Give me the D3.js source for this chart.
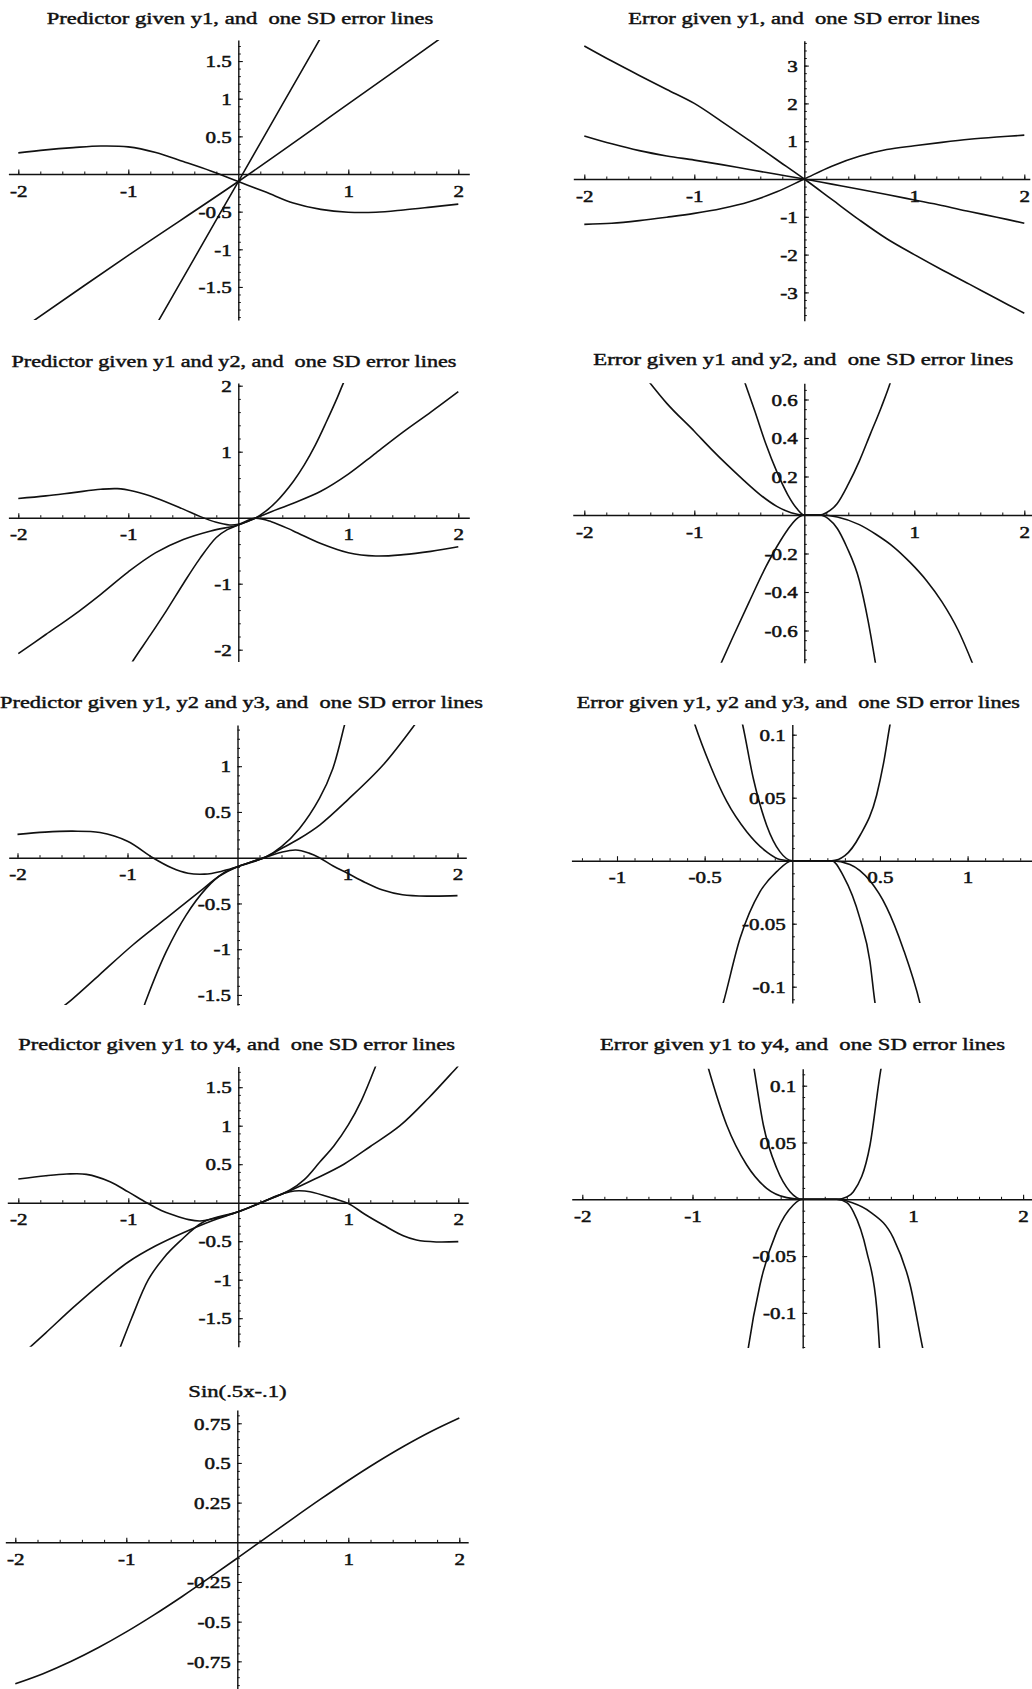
<!DOCTYPE html>
<html>
<head>
<meta charset="utf-8">
<script src="https://cdn.jsdelivr.net/npm/d3@7"></script>
<style>
  html, body { margin: 0; padding: 0; background: #fff; }
  svg { display: block; }
  text { font-family: "Liberation Serif", "Times New Roman", serif; font-size: 17.5px; fill: #111; white-space: pre; }
  .lbl text { stroke: #111; stroke-width: 0.55px; }
  .title { stroke: #111; stroke-width: 0.45px; }
</style>
</head>
<body>
<svg id="chart" width="1032" height="1689"></svg>
<script>
// ---------- titles and tick labels ----------
const titles = [
  "Predictor given y1, and  one SD error lines",
  "Error given y1, and  one SD error lines",
  "Predictor given y1 and y2, and  one SD error lines",
  "Error given y1 and y2, and  one SD error lines",
  "Predictor given y1, y2 and y3, and  one SD error lines",
  "Error given y1, y2 and y3, and  one SD error lines",
  "Predictor given y1 to y4, and  one SD error lines",
  "Error given y1 to y4, and  one SD error lines",
  "Sin(.5x-.1)"
];
const xTicksWide = [-2, -1, 1, 2];
const xTicksHalf = [-1, -0.5, 0.5, 1];
const yTicksP1 = [1.5, 1, 0.5, -0.5, -1, -1.5];
const yTicksP2 = [3, 2, 1, -1, -2, -3];
const yTicksP3 = [2, 1, -1, -2];
const yTicksP4 = [0.6, 0.4, 0.2, -0.2, -0.4, -0.6];
const yTicksP5 = [1, 0.5, -0.5, -1, -1.5];
const yTicksP6 = [0.1, 0.05, -0.05, -0.1];
const yTicksP7 = [1.5, 1, 0.5, -0.5, -1, -1.5];
const yTicksP8 = [0.1, 0.05, -0.05, -0.1];
const yTicksP9 = [0.75, 0.5, 0.25, -0.25, -0.5, -0.75];

// ---------- series: [x, y] pairs ----------
// Predictor given y1
const p1Wavy = [[-2,0.28],[-1.75,0.32],[-1.5,0.35],[-1.25,0.372],[-1,0.36],[-0.75,0.285],[-0.5,0.165],[-0.25,0.04],[0,-0.1],[0.25,-0.24],[0.5,-0.385],[0.75,-0.47],[1,-0.508],[1.25,-0.508],[1.5,-0.478],[1.75,-0.44],[2,-0.4]];
const p1Mid = [[-2,-2.09],[-1,-1.08],[0,-0.1],[1,0.93],[2,1.97]];
const p1Steep = [[-0.8,-2.14],[-0.4,-1.12],[0,-0.1],[0.4,0.92],[0.8,1.94]];

// Error given y1
const p2Steep = [[-2,3.52],[-1.75,3.12],[-1.5,2.74],[-1.25,2.37],[-1,2.0],[-0.75,1.52],[-0.5,1.02],[-0.25,0.51],[0,0],[0.25,-0.54],[0.5,-1.08],[0.75,-1.58],[1,-2.0],[1.25,-2.4],[1.5,-2.78],[1.75,-3.17],[2,-3.55]];
const p2Mild = [[-2,1.14],[-1.75,0.93],[-1.5,0.75],[-1.25,0.61],[-1,0.5],[-0.75,0.38],[-0.5,0.25],[-0.25,0.125],[0,0],[0.25,-0.135],[0.5,-0.27],[0.75,-0.41],[1,-0.555],[1.25,-0.7],[1.5,-0.86],[1.75,-1.01],[2,-1.17]];
const p2S = [[-2,-1.2],[-1.75,-1.17],[-1.5,-1.1],[-1.25,-1.01],[-1,-0.91],[-0.75,-0.78],[-0.5,-0.6],[-0.25,-0.34],[0,0],[0.25,0.34],[0.5,0.6],[0.75,0.78],[1,0.88],[1.25,0.97],[1.5,1.05],[1.75,1.11],[2,1.16]];

// Predictor given y1 and y2
const p3Wavy = [[-2,0.29],[-1.75,0.33],[-1.5,0.38],[-1.25,0.43],[-1.1,0.44],[-0.95,0.4],[-0.75,0.3],[-0.5,0.13],[-0.35,0.02],[-0.2,-0.07],[-0.08,-0.11],[0,-0.1],[0.15,-0.01],[0.3,-0.06],[0.5,-0.2],[0.75,-0.39],[1,-0.53],[1.25,-0.58],[1.5,-0.56],[1.75,-0.51],[2,-0.44]];
const p3Mid = [[-2,-2.06],[-1.75,-1.77],[-1.5,-1.48],[-1.25,-1.16],[-1,-0.82],[-0.75,-0.53],[-0.5,-0.33],[-0.25,-0.2],[0,-0.11],[0.15,-0.01],[0.3,0.09],[0.5,0.22],[0.75,0.4],[1,0.66],[1.25,0.98],[1.5,1.3],[1.75,1.6],[2,1.91]];
const p3Steep = [[-1,-2.3],[-0.954,-2.16],[-0.8,-1.78],[-0.65,-1.4],[-0.5,-1.0],[-0.35,-0.62],[-0.2,-0.3],[-0.1,-0.18],[0,-0.11],[0.15,-0.01],[0.25,0.1],[0.35,0.25],[0.5,0.55],[0.6,0.8],[0.7,1.1],[0.8,1.45],[0.9,1.82],[0.955,2.04],[1,2.2]];

// Error given y1 and y2
const p4Wide = [[-1.45,0.72],[-1.25,0.58],[-1,0.435],[-0.85,0.345],[-0.7,0.26],[-0.55,0.18],[-0.4,0.105],[-0.25,0.045],[-0.12,0.012],[0,0],[0.14,0],[0.3,-0.01],[0.5,-0.05],[0.65,-0.1],[0.81,-0.165],[0.96,-0.245],[1.11,-0.34],[1.25,-0.45],[1.4,-0.6],[1.55,-0.8]];
const p4Narrow = [[-0.56,0.72],[-0.45,0.54],[-0.35,0.37],[-0.25,0.225],[-0.15,0.105],[-0.07,0.035],[0,0],[0.14,0],[0.22,-0.02],[0.3,-0.07],[0.385,-0.165],[0.5,-0.34],[0.58,-0.55],[0.65,-0.78]];
const p4Cross = [[-0.78,-0.8],[-0.65,-0.635],[-0.5,-0.45],[-0.35,-0.27],[-0.25,-0.165],[-0.15,-0.075],[-0.07,-0.02],[0,0],[0.14,0],[0.2,0.012],[0.3,0.06],[0.4,0.16],[0.5,0.28],[0.6,0.42],[0.7,0.56],[0.78,0.684],[0.8,0.72]];

// Predictor given y1, y2 and y3
const p5Wavy = [[-2,0.255],[-1.75,0.28],[-1.5,0.29],[-1.25,0.275],[-1,0.18],[-0.77,0],[-0.6,-0.11],[-0.45,-0.17],[-0.3,-0.18],[-0.15,-0.15],[0,-0.098],[0.13,-0.05],[0.26,0.005],[0.4,0.06],[0.53,0.084],[0.65,0.05],[0.745,0],[0.87,-0.09],[1,-0.17],[1.16,-0.27],[1.32,-0.353],[1.5,-0.405],[1.75,-0.42],[2,-0.415]];
const p5Mid = [[-1.6,-1.64],[-1.512,-1.556],[-1.255,-1.28],[-0.952,-0.954],[-0.649,-0.663],[-0.345,-0.372],[-0.164,-0.2],[0,-0.098],[0.13,-0.045],[0.26,0.01],[0.4,0.1],[0.564,0.21],[0.75,0.36],[1,0.63],[1.321,1.01],[1.609,1.45],[1.65,1.52]];
const p5Steep = [[-0.86,-1.66],[-0.83,-1.556],[-0.649,-1.03],[-0.467,-0.627],[-0.285,-0.335],[-0.133,-0.171],[0,-0.098],[0.13,-0.045],[0.26,0.01],[0.4,0.12],[0.564,0.32],[0.745,0.648],[0.867,0.976],[0.973,1.45],[0.99,1.52]];

// Error given y1, y2 and y3
const p6Wide = [[-0.57,0.114],[-0.555,0.1077],[-0.469,0.076],[-0.374,0.047],[-0.26,0.023],[-0.146,0.007],[-0.07,0.001],[0,0],[0.225,0],[0.329,-0.003],[0.443,-0.016],[0.538,-0.037],[0.633,-0.07],[0.728,-0.113],[0.74,-0.12]];
const p6Narrow = [[-0.29,0.112],[-0.283,0.1077],[-0.222,0.065],[-0.146,0.028],[-0.07,0.007],[0,0],[0.225,0],[0.291,-0.012],[0.386,-0.046],[0.443,-0.08],[0.472,-0.113],[0.48,-0.12]];
const p6Cross = [[-0.4,-0.116],[-0.394,-0.113],[-0.298,-0.0616],[-0.184,-0.0246],[-0.089,-0.0087],[0,0],[0.225,0],[0.3,0.004],[0.386,0.02],[0.481,0.052],[0.52,0.077],[0.557,0.1077],[0.56,0.11]];

// Predictor given y1 to y4
const p7Wavy = [[-2,0.307],[-1.75,0.35],[-1.56,0.372],[-1.38,0.368],[-1.166,0.273],[-1,0.14],[-0.833,0],[-0.7,-0.1],[-0.59,-0.16],[-0.45,-0.22],[-0.348,-0.238],[-0.2,-0.2],[0,-0.117],[0.227,0.013],[0.35,0.09],[0.47,0.143],[0.55,0.155],[0.652,0.143],[0.864,0.056],[1,-0.01],[1.15,-0.15],[1.318,-0.29],[1.5,-0.43],[1.62,-0.485],[1.8,-0.51],[2,-0.506]];
const p7Mid = [[-1.95,-1.95],[-1.75,-1.69],[-1.5,-1.36],[-1.25,-1.05],[-1,-0.77],[-0.75,-0.56],[-0.5,-0.39],[-0.25,-0.24],[0,-0.117],[0.227,0.013],[0.47,0.156],[0.7,0.31],[0.96,0.5],[1.2,0.73],[1.47,1.0],[1.73,1.36],[1.985,1.753],[2,1.775]];
const p7Steep = [[-1.1,-1.97],[-1.075,-1.883],[-0.97,-1.5],[-0.818,-1.0],[-0.68,-0.72],[-0.53,-0.5],[-0.318,-0.25],[0,-0.117],[0.227,0.013],[0.47,0.165],[0.6,0.3],[0.743,0.532],[0.87,0.74],[1,1.01],[1.12,1.33],[1.243,1.753],[1.25,1.78]];

// Error given y1 to y4
const p8Wide = [[-0.87,0.12],[-0.856,0.1153],[-0.69,0.0654],[-0.508,0.0302],[-0.327,0.0097],[-0.145,0.0015],[0,0],[0.309,0],[0.45,-0.003],[0.611,-0.011],[0.822,-0.034],[0.974,-0.075],[1.089,-0.131],[1.1,-0.136]];
const p8Narrow = [[-0.45,0.12],[-0.442,0.1153],[-0.357,0.0654],[-0.236,0.0273],[-0.115,0.0067],[0,0],[0.309,0],[0.4,-0.003],[0.46,-0.011],[0.581,-0.046],[0.672,-0.096],[0.697,-0.131],[0.7,-0.136]];
const p8Cross = [[-0.5,-0.135],[-0.494,-0.131],[-0.388,-0.0754],[-0.236,-0.0285],[-0.085,-0.005],[0,0],[0.309,0],[0.4,0.002],[0.46,0.0067],[0.611,0.0478],[0.711,0.1153],[0.72,0.12]];

// Sin(.5x-.1)
const p9Sine = [[-2,-0.8912],[-1.75,-0.8277],[-1.5,-0.7513],[-1.25,-0.6630],[-1,-0.5646],[-0.75,-0.4573],[-0.5,-0.3429],[-0.25,-0.2231],[0,-0.0998],[0.25,0.0250],[0.5,0.1494],[0.75,0.2715],[1,0.3894],[1.25,0.5012],[1.5,0.6052],[1.75,0.6998],[2,0.7833]];

// ---------- panel frames (pixel origin, px per unit, visible extents) ----------
// flat: error panels whose curves lie flat along the axis, drawn with a monotone curve
const frames = [
  { t: 0, tx: 240,   ty: 24,     tw: 386.7, x0: 238.3, kx: 110,   y0: 174,    ky: 75.3,  xExt: [-2.09, 2.10],   yExt: [-1.94, 1.78],   xt: xTicksWide, xm: 0.2, yt: yTicksP1, ym: 0.1,  flat: false, s: [p1Wavy, p1Mid, p1Steep] },
  { t: 1, tx: 804,   ty: 24,     tw: 351.7, x0: 804.3, kx: 110,   y0: 179,    ky: 37.8,  xExt: [-2.10, 2.05],   yExt: [-3.75, 3.66],   xt: xTicksWide, xm: 0.2, yt: yTicksP2, ym: 0.2,  flat: false, s: [p2Steep, p2Mild, p2S] },
  { t: 2, tx: 234,   ty: 366.7,  tw: 445,   x0: 238.3, kx: 110,   y0: 517.7,  ky: 66,    xExt: [-2.09, 2.10],   yExt: [-2.18, 2.04],   xt: xTicksWide, xm: 0.2, yt: yTicksP3, ym: 0.2,  flat: false, s: [p3Wavy, p3Mid, p3Steep] },
  { t: 3, tx: 803.3, ty: 365,    tw: 420,   x0: 804.3, kx: 110,   y0: 515,    ky: 192.5, xExt: [-2.105, 2.067], yExt: [-0.767, 0.684], xt: xTicksWide, xm: 0.2, yt: yTicksP4, ym: 0.05, flat: true,  s: [p4Wide, p4Narrow, p4Cross] },
  { t: 4, tx: 241.5, ty: 708.3,  tw: 483,   x0: 237.5, kx: 110,   y0: 857.7,  ky: 91.5,  xExt: [-2.08, 2.08],   yExt: [-1.61, 1.45],   xt: xTicksWide, xm: 0.2, yt: yTicksP5, ym: 0.1,  flat: false, s: [p5Wavy, p5Mid, p5Steep] },
  { t: 5, tx: 798.3, ty: 707.7,  tw: 443.3, x0: 792.3, kx: 175.3, y0: 860.7,  ky: 1260,  xExt: [-1.26, 1.37],   yExt: [-0.113, 0.108], xt: xTicksHalf, xm: 0.1, yt: yTicksP6, ym: 0.01, flat: true,  s: [p6Wide, p6Narrow, p6Cross] },
  { t: 6, tx: 236.7, ty: 1050,   tw: 436.7, x0: 238.3, kx: 110,   y0: 1202.7, ky: 77,    xExt: [-2.10, 2.09],   yExt: [-1.87, 1.77],   xt: xTicksWide, xm: 0.2, yt: yTicksP7, ym: 0.1,  flat: false, s: [p7Wavy, p7Mid, p7Steep] },
  { t: 7, tx: 802.5, ty: 1050,   tw: 405,   x0: 802.7, kx: 110.2, y0: 1199.3, ky: 1136,  xExt: [-2.096, 2.078], yExt: [-0.131, 0.115], xt: xTicksWide, xm: 0.2, yt: yTicksP8, ym: 0.01, flat: true,  s: [p8Wide, p8Narrow, p8Cross] },
  { t: 8, tx: 237.5, ty: 1396.7, tw: 98.3,  x0: 237.3, kx: 111,   y0: 1542.3, ky: 158.7, xExt: [-2.09, 2.08],   yExt: [-0.924, 0.834], xt: xTicksWide, xm: 0.2, yt: yTicksP9, ym: 0.05, flat: false, s: [p9Sine] }
];

const INK = "#111";
const GLYPH_STRETCH = 1.2;   // tick numerals are drawn slightly wide
const svg = d3.select("#chart");
const defs = svg.append("defs");

function minorTicks(ext, step) {
  const out = [];
  const start = Math.ceil(ext[0] / step - 1e-9);
  const end = Math.floor(ext[1] / step + 1e-9);
  for (let k = start; k <= end; k++) {
    const v = +(k * step).toFixed(6);
    if (Math.abs(v) > 1e-9) out.push(v);
  }
  return out;
}

frames.forEach((f, i) => {
  const x = d3.scaleLinear().domain(f.xExt).range([f.x0 + f.kx * f.xExt[0], f.x0 + f.kx * f.xExt[1]]);
  const y = d3.scaleLinear().domain(f.yExt).range([f.y0 - f.ky * f.yExt[0], f.y0 - f.ky * f.yExt[1]]);
  const g = svg.append("g").attr("class", "panel");

  // title
  svg.append("text")
    .attr("class", "title")
    .attr("x", f.tx)
    .attr("y", f.ty)
    .attr("text-anchor", "middle")
    .attr("textLength", f.tw)
    .attr("lengthAdjust", "spacingAndGlyphs")
    .text(titles[f.t]);

  // minor ticks
  g.append("g")
    .attr("transform", `translate(0,${y(0)})`)
    .call(d3.axisBottom(x).tickValues(minorTicks(f.xExt, f.xm)).tickSize(-2.5).tickFormat(""))
    .call(s => s.select(".domain").remove())
    .attr("color", INK).selectAll("line").attr("stroke-width", 1);
  g.append("g")
    .attr("transform", `translate(${x(0)},0)`)
    .call(d3.axisLeft(y).tickValues(minorTicks(f.yExt, f.ym)).tickSize(-2.5).tickFormat(""))
    .call(s => s.select(".domain").remove())
    .attr("color", INK).selectAll("line").attr("stroke-width", 1);

  // major ticks, labels and axis lines
  const xa = g.append("g")
    .attr("class", "lbl")
    .attr("transform", `translate(0,${y(0)})`)
    .attr("color", INK)
    .call(d3.axisBottom(x).tickValues(f.xt).tickSizeInner(-4.5).tickSizeOuter(0).tickPadding(10.3).tickFormat(d => String(d)));
  const ya = g.append("g")
    .attr("class", "lbl")
    .attr("transform", `translate(${x(0)},0)`)
    .attr("color", INK)
    .call(d3.axisLeft(y).tickValues(f.yt).tickSizeInner(-4.5).tickSizeOuter(0).tickPadding(6.5 / GLYPH_STRETCH).tickFormat(d => String(d)));
  [xa, ya].forEach(a => {
    a.attr("font-size", null).attr("font-family", null);
    a.select(".domain").attr("stroke-width", 1.4);
    a.selectAll(".tick line").attr("stroke-width", 1.1);
    a.selectAll(".tick text").attr("transform", `scale(${GLYPH_STRETCH},1)`);
  });
  ya.selectAll(".tick text").attr("dy", "0.33em");

  // curves, clipped to the plotting box
  const cid = "clip" + i;
  defs.append("clipPath").attr("id", cid).append("rect")
    .attr("x", x.range()[0]).attr("y", y.range()[1])
    .attr("width", x.range()[1] - x.range()[0])
    .attr("height", y.range()[0] - y.range()[1]);
  const curve = f.flat ? d3.curveMonotoneX : d3.curveCatmullRom.alpha(0.5);
  const line = d3.line().curve(curve).x(d => x(d[0])).y(d => y(d[1]));
  g.append("g").attr("clip-path", `url(#${cid})`)
    .selectAll("path").data(f.s).join("path")
    .attr("d", line)
    .attr("fill", "none")
    .attr("stroke", INK)
    .attr("stroke-width", 1.6)
    .attr("stroke-linejoin", "round");
});
</script>
</body>
</html>
